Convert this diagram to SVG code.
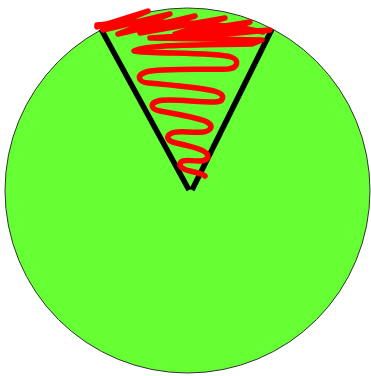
<svg xmlns="http://www.w3.org/2000/svg" width="371" height="376" viewBox="0 0 371 376">
<style>
.v{stroke:#000;stroke-width:5.5;fill:none;stroke-linecap:butt}
.r{stroke:#ff0000;stroke-width:5.5;fill:none;stroke-linecap:round;stroke-linejoin:round}
</style>
<rect width="371" height="376" fill="#fff"/>
<g id="circle">
<circle cx="187.5" cy="190.5" r="182.5" fill="#66ff33" stroke="#333" stroke-width="1"/>
</g>
<g id="wedge">
<line class="v" x1="101" y1="29" x2="189" y2="190"/>
<line class="v" x1="272" y1="29" x2="192" y2="190"/>
</g>
<g id="scribble">
<path class="r" d="M97,27 L148,11 L103,30 L170,14 L118,34 L195,16 L140,33 L225,18 L175,34 L250,22 L205,36 L270,30 L150,38 L262,40 L252,44 C200,45 150,44 134,51 C150,54 215,52 231,57 C240,60 238,68 228,69 C200,70 160,68 146,72 C136,75 138,82 148,83 C180,86 205,88 217,92 C226,95 224,102 214,102 C195,102 168,98 158,101 C150,103 150,109 160,111 C180,115 200,118 207,122 C214,126 211,131 203,132 C190,133 178,130 172,133 C165,136 167,141 176,143 C190,146 205,150 207,154 C210,159 205,161 198,161 C190,161 184,159 181,162 C178,166 182,169 190,171 C198,173 203,174 205,176"/>
<path class="r" d="M97,25 C150,20 220,22 263,32"/>
</g>
</svg>
